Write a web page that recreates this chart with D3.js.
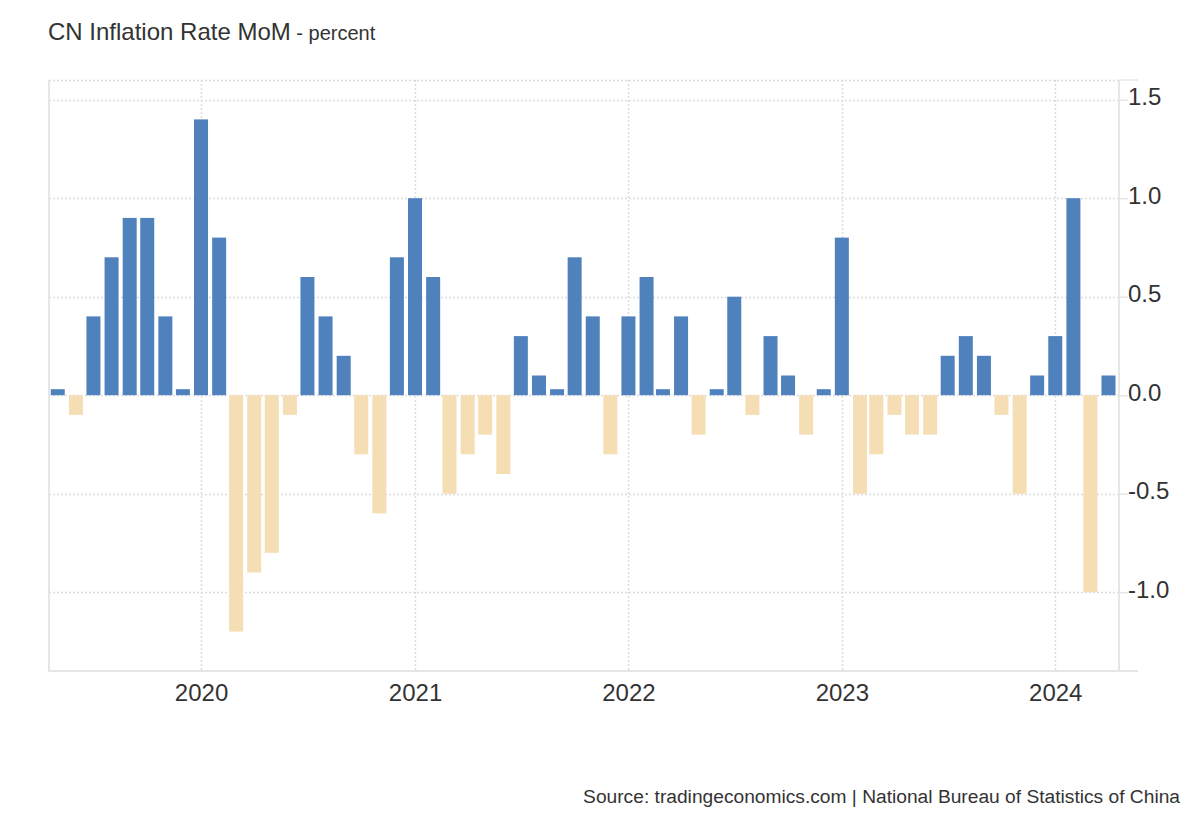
<!DOCTYPE html>
<html>
<head>
<meta charset="utf-8">
<script src="https://cdn.jsdelivr.net/npm/d3@7"></script>
<style>
  body { margin: 0; background: #fff; }
  text { font-family: "Liberation Sans", Arial, sans-serif; fill: #333; }
</style>
</head>
<body>
<div id="chart"></div>
<script>
// monthly values, May 2019 .. Apr 2024
var months = [
  "2019-05","2019-06","2019-07","2019-08","2019-09","2019-10","2019-11","2019-12",
  "2020-01","2020-02","2020-03","2020-04","2020-05","2020-06","2020-07","2020-08","2020-09","2020-10","2020-11","2020-12",
  "2021-01","2021-02","2021-03","2021-04","2021-05","2021-06","2021-07","2021-08","2021-09","2021-10","2021-11","2021-12",
  "2022-01","2022-02","2022-03","2022-04","2022-05","2022-06","2022-07","2022-08","2022-09","2022-10","2022-11","2022-12",
  "2023-01","2023-02","2023-03","2023-04","2023-05","2023-06","2023-07","2023-08","2023-09","2023-10","2023-11","2023-12",
  "2024-01","2024-02","2024-03","2024-04"
];
var values = [
  0.0, -0.1, 0.4, 0.7, 0.9, 0.9, 0.4, 0.0,
  1.4, 0.8, -1.2, -0.9, -0.8, -0.1, 0.6, 0.4, 0.2, -0.3, -0.6, 0.7,
  1.0, 0.6, -0.5, -0.3, -0.2, -0.4, 0.3, 0.1, 0.0, 0.7, 0.4, -0.3,
  0.4, 0.6, 0.0, 0.4, -0.2, 0.0, 0.5, -0.1, 0.3, 0.1, -0.2, 0.0,
  0.8, -0.5, -0.3, -0.1, -0.2, -0.2, 0.2, 0.3, 0.2, -0.1, -0.5, 0.1,
  0.3, 1.0, -1.0, 0.1
];
var yTicks = [-1.0, -0.5, 0.0, 0.5, 1.0, 1.5];
var yearTicks = ["2020", "2021", "2022", "2023", "2024"];

var svgWidth = 1200, svgHeight = 820;
var plotLeft = 49, plotRight = 1119, plotTop = 80, plotBottom = 671;

var parse = d3.timeParse("%Y-%m");
var data = months.map(function(m, i) { return { date: parse(m), value: values[i] }; });

var svg = d3.select("#chart").append("svg")
  .attr("width", svgWidth)
  .attr("height", svgHeight);

var x = d3.scaleTime()
  .domain([new Date(2019, 3, 16), new Date(2024, 3, 19)])
  .range([plotLeft, plotRight]);

var y = d3.scaleLinear()
  .domain([-1.4, 1.6])
  .range([plotBottom, plotTop]);

var gridColor = "#dcdcdc";

// horizontal grid
svg.append("g").selectAll("line")
  .data(yTicks.concat([1.6]))
  .enter().append("line")
  .attr("x1", plotLeft).attr("x2", plotRight)
  .attr("y1", d => Math.round(y(d)) + 0.5).attr("y2", d => Math.round(y(d)) + 0.5)
  .attr("stroke", gridColor)
  .attr("stroke-width", 1.5)
  .attr("stroke-dasharray", "2,2");

// vertical grid at years
svg.append("g").selectAll("line")
  .data(yearTicks)
  .enter().append("line")
  .attr("x1", d => Math.round(x(new Date(+d, 0, 1))) + 0.5)
  .attr("x2", d => Math.round(x(new Date(+d, 0, 1))) + 0.5)
  .attr("y1", plotTop).attr("y2", plotBottom)
  .attr("stroke", gridColor)
  .attr("stroke-width", 1.5)
  .attr("stroke-dasharray", "2,2");

// bars (zero months get a thin stub like the original)
var barW = 14;
svg.append("g").selectAll("rect")
  .data(data)
  .enter().append("rect")
  .attr("x", d => x(d.date) - barW / 2)
  .attr("width", barW)
  .attr("y", function(d) {
    if (d.value === 0) return y(0) - 6;
    return d.value > 0 ? y(d.value) : y(0);
  })
  .attr("height", function(d) {
    if (d.value === 0) return 6;
    return Math.abs(y(d.value) - y(0));
  })
  .attr("fill", d => d.value >= 0 ? "#4f81bd" : "#f5deb3");

// axis frame
var axisColor = "#e6e6e6";
svg.append("line")
  .attr("x1", plotLeft).attr("x2", plotLeft).attr("y1", plotTop).attr("y2", plotBottom + 1)
  .attr("stroke", axisColor).attr("stroke-width", 2);
svg.append("line")
  .attr("x1", plotRight).attr("x2", plotRight).attr("y1", plotTop).attr("y2", plotBottom + 1)
  .attr("stroke", axisColor).attr("stroke-width", 2);
svg.append("line")
  .attr("x1", plotLeft).attr("x2", plotRight + 19).attr("y1", plotBottom).attr("y2", plotBottom)
  .attr("stroke", axisColor).attr("stroke-width", 2);
svg.append("line")
  .attr("x1", plotRight).attr("x2", plotRight + 19).attr("y1", plotTop).attr("y2", plotTop)
  .attr("stroke", axisColor).attr("stroke-width", 1.5);

// right y axis
var fmt = d3.format(".1f");
var yAxis = d3.axisRight(y)
  .tickValues(yTicks)
  .tickSize(9)
  .tickPadding(0)
  .tickFormat(d => fmt(d).replace("\u2212", "-"));
var gy = svg.append("g")
  .attr("transform", `translate(${plotRight}, 0)`)
  .call(yAxis);
gy.select(".domain").remove();
gy.selectAll(".tick line").attr("stroke", axisColor).attr("stroke-width", 1.5);
gy.selectAll(".tick text")
  .attr("x", 9)
  .attr("dy", "0.2em")
  .style("font-size", "24px");

// bottom x axis
var xAxis = d3.axisBottom(x)
  .tickValues(yearTicks.map(d => new Date(+d, 0, 1)))
  .tickSize(0)
  .tickPadding(0)
  .tickFormat(d3.timeFormat("%Y"));
var gx = svg.append("g")
  .attr("transform", `translate(0, ${plotBottom})`)
  .call(xAxis);
gx.select(".domain").remove();
gx.selectAll(".tick text")
  .attr("y", 30)
  .attr("dy", 0)
  .style("font-size", "24px");

// title
var title = svg.append("text")
  .attr("x", 48).attr("y", 40);
title.append("tspan").style("font-size", "24px").text("CN Inflation Rate MoM");
title.append("tspan").style("font-size", "20px").text(" - percent");

// source
svg.append("text")
  .attr("x", 1180).attr("y", 803)
  .attr("text-anchor", "end")
  .style("font-size", "19.2px")
  .text("Source: tradingeconomics.com | National Bureau of Statistics of China");
</script>
</body>
</html>
